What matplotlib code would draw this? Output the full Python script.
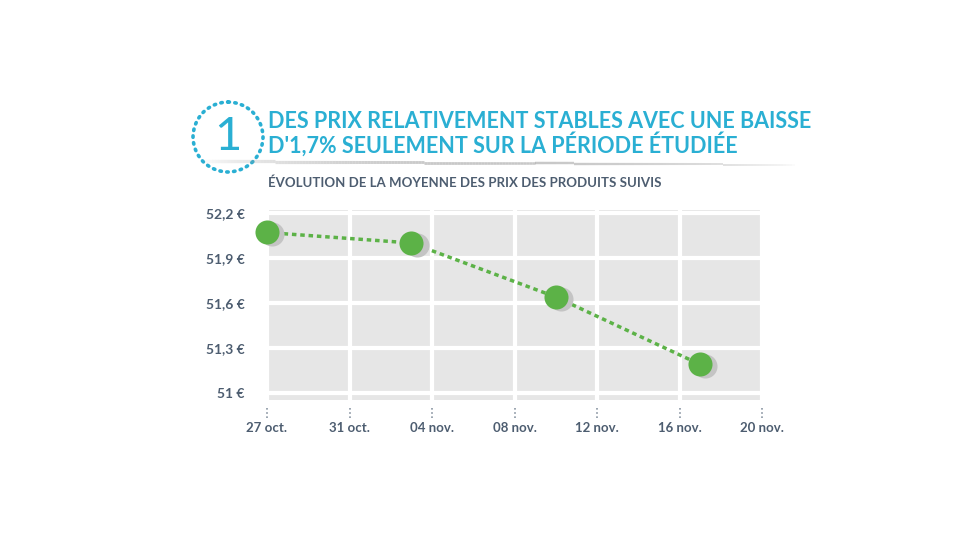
import numpy as np
import matplotlib
matplotlib.use("Agg")
import matplotlib.pyplot as plt
import matplotlib.dates as mdates
from matplotlib.patches import Circle
import datetime as dt

dates = [dt.date(2014, 10, 27), dt.date(2014, 11, 3), dt.date(2014, 11, 10), dt.date(2014, 11, 17)]
prices = [52.07, 52.00, 51.64, 51.19]
ytick_vals = [51.0, 51.3, 51.6, 51.9, 52.2]
ytick_labels = ["51 €", "51,3 €", "51,6 €", "51,9 €", "52,2 €"]
xtick_dates = [dt.date(2014, 10, 27) + dt.timedelta(days=4 * i) for i in range(7)]
xtick_labels = ["27 oct.", "31 oct.", "04 nov.", "08 nov.", "12 nov.", "16 nov.", "20 nov."]

BLUE = "#2aafd3"
SLATE = "#4d5d70"
GREEN = "#5cb247"
plt.rcParams["font.family"] = ["Lato", "DejaVu Sans"]

fig = plt.figure(figsize=(9.8, 5.4), dpi=100, facecolor="white")

# title block
fig.text(268 / 980, 1 - 121 / 540, "DES PRIX RELATIVEMENT STABLES AVEC UNE BAISSE",
         color=BLUE, fontsize=15.5, fontweight="bold", va="center")
fig.text(268 / 980, 1 - 144 / 540, "D'1,7% SEULEMENT SUR LA PÉRIODE ÉTUDIÉE",
         color=BLUE, fontsize=15.5, fontweight="bold", va="center")
fig.text(268 / 980, 1 - 183 / 540, "ÉVOLUTION DE LA MOYENNE DES PRIX DES PRODUITS SUIVIS",
         color=SLATE, fontsize=9.5, fontweight="bold", va="center")

deco = fig.add_axes([0, 0, 1, 1], facecolor="none")
deco.set_xlim(0, 980)
deco.set_ylim(540, 0)
deco.set_axis_off()
deco.add_patch(Circle((228, 137), 35, fill=False, edgecolor=BLUE, lw=2.6,
                      linestyle=(0, (0.4, 1.5)), capstyle="round"))
deco.text(228, 137, "1", color=BLUE, fontsize=34, ha="center", va="center")
# fading swoosh under the title
xs = np.linspace(200, 795, 200)
for x0, x1 in zip(xs[:-1], xs[1:]):
    t = (x0 - 200) / 595
    alpha = 0.55 * np.sin(np.pi * t) ** 0.6
    deco.plot([x0, x1], [161 + 4 * t, 161 + 4 * t], color="#9a9a9a", lw=2.5 * (1 - 0.5 * t),
              alpha=alpha, solid_capstyle="butt")

ax = fig.add_axes([267 / 980, 1 - 400 / 540, 495 / 980, 190 / 540])
ax.set_facecolor("#e6e6e6")
x0 = mdates.date2num(dates[0])
ax.set_xlim(x0, x0 + 24)
ax.set_ylim(50.953, 52.22)
ax.set_xticks([mdates.date2num(d) for d in xtick_dates])
ax.set_xticklabels(xtick_labels)
ax.set_yticks(ytick_vals)
ax.set_yticklabels(ytick_labels)
ax.grid(True, color="white", lw=3)
ax.set_axisbelow(True)
for s in ax.spines.values():
    s.set_visible(False)
ax.tick_params(axis="y", length=0, pad=16, labelcolor=SLATE, labelsize=10)
ax.tick_params(axis="x", length=0, pad=16, labelcolor=SLATE, labelsize=9.5)
for lab in ax.get_xticklabels() + ax.get_yticklabels():
    lab.set_fontweight("bold")
# dotted tick marks below the plot
for d in xtick_dates:
    xd = mdates.date2num(d)
    ax.plot([xd, xd], [50.90, 50.83], color="#8a96a3", lw=1.2, linestyle=(0, (1, 1.5)),
            clip_on=False)

xn = [mdates.date2num(d) for d in dates]
ax.plot(xn, prices, color=GREEN, lw=2.5, linestyle=(0, (1.3, 1.1)), zorder=3)
ax.scatter(np.array(xn) + 0.25, np.array(prices) - 0.012, s=300, color="#c4c4c4",
           zorder=3.5, clip_on=False, linewidths=0)
ax.scatter(xn, prices, s=300, color=GREEN, zorder=4, clip_on=False, linewidths=0)

fig.savefig("out.png", dpi=100, facecolor="white")
